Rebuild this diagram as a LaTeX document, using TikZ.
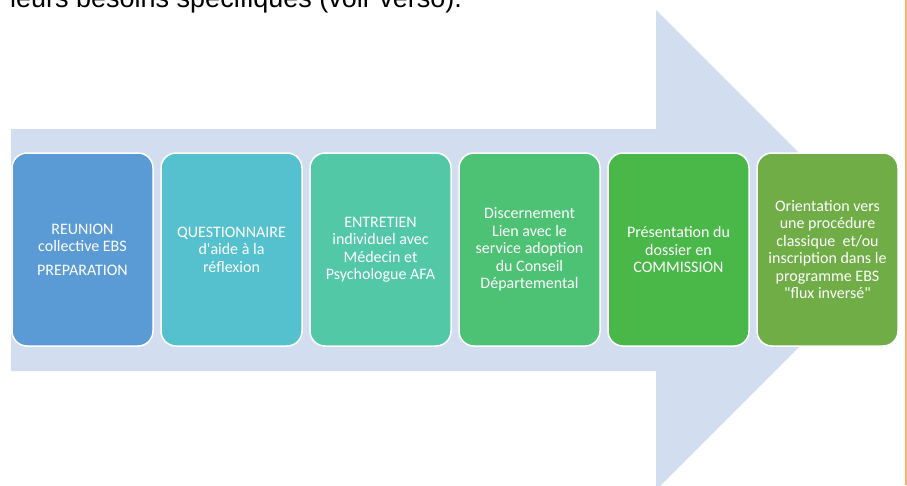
\documentclass[tikz,border=0pt]{standalone}
\usepackage{fontspec}
\newfontfamily\boxfont{Carlito}
\newfontfamily\headfont{Liberation Sans}
\usetikzlibrary{positioning}

\definecolor{arrowbg}{HTML}{D2DEEF}
\definecolor{pagerule}{HTML}{F7B27A}
\definecolor{stepA}{HTML}{5B9BD5}
\definecolor{stepB}{HTML}{55C1CE}
\definecolor{stepC}{HTML}{52C8A7}
\definecolor{stepD}{HTML}{4DC174}
\definecolor{stepE}{HTML}{49B849}
\definecolor{stepF}{HTML}{70AD47}

\begin{document}
\begin{tikzpicture}[x=1pt, y=-1pt,
  etape/.style={draw=white, line width=1.5pt, rounded corners=15pt,
    minimum width=141pt, minimum height=193pt, inner sep=0pt,
    align=center, text=white, font=\boxfont\fontsize{16}{17.5}\selectfont}]

\useasboundingbox (0,0) rectangle (907,485);
\clip (0,0) rectangle (907,485);

% Define arrow vertices
\coordinate (A) at (11, 129);
\coordinate (B) at (656, 129);
\coordinate (C) at (656, 10);
\coordinate (D) at (896, 250);
\coordinate (E) at (656, 490);
\coordinate (F) at (656, 371);
\coordinate (G) at (11, 371);

% Draw the big arrow behind the steps
\fill[arrowbg] (A) -- (B) -- (C) -- (D) -- (E) -- (F) -- (G) -- cycle;

% Line at the right edge of the page
\coordinate (R1) at (906, 0);
\coordinate (R2) at (906, 485);
\draw[pagerule, line width=1.2pt] (R1) -- (R2);

% Text cut off at the top
\node[anchor=base west, inner sep=0pt] (T) at (10, 7)
  {\headfont\fontsize{27}{30}\selectfont leurs besoins spécifiques (voir verso).};

% Steps
\def\gap{6.5pt}
\node[etape, fill=stepA] (S1) at (82.5, 249.5)
  {REUNION\\collective EBS\\[6pt]PREPARATION};
\node[etape, fill=stepB, right=\gap of S1] (S2)
  {QUESTIONNAIRE\\d'aide à la\\réflexion};
\node[etape, fill=stepC, right=\gap of S2] (S3)
  {ENTRETIEN\\individuel avec\\Médecin et\\Psychologue AFA};
\node[etape, fill=stepD, right=\gap of S3] (S4)
  {Discernement\\Lien avec le\\service adoption\\du Conseil\\Départemental};
\node[etape, fill=stepE, right=\gap of S4] (S5)
  {Présentation du\\dossier en\\COMMISSION};
\node[etape, fill=stepF, right=\gap of S5] (S6)
  {Orientation vers\\une procédure\\classique\ \ et/ou\\inscription dans le\\programme EBS\\"flux inversé"};

\end{tikzpicture}
\end{document}
